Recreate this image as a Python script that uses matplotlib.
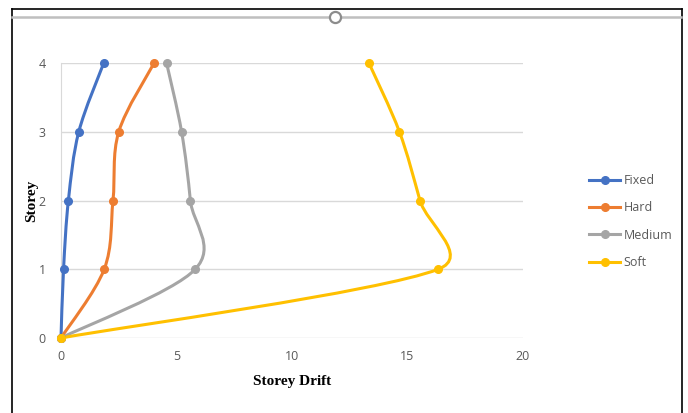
import numpy as np
import matplotlib
matplotlib.use("Agg")
import matplotlib.pyplot as plt
from matplotlib.path import Path
from matplotlib.patches import PathPatch
from matplotlib.lines import Line2D

# storey drift
storeys = [0, 1, 2, 3, 4]
fixed = [0, 0.11, 0.32, 0.77, 1.85]
hard = [0, 1.87, 2.25, 2.5, 4.03]
medium = [0, 5.81, 5.6, 5.22, 4.57]
soft = [0, 16.33, 15.54, 14.65, 13.33]

series = [("Fixed", fixed, "#4472C4"),
          ("Hard", hard, "#ED7D31"),
          ("Medium", medium, "#A5A5A5"),
          ("Soft", soft, "#FFC000")]

W, H = 688, 413
fig = plt.figure(figsize=(W / 100, H / 100), dpi=100)
fig.subplots_adjust(left=61 / W, right=523 / W, top=1 - 63 / H, bottom=1 - 338 / H)
ax = fig.add_subplot(111)
ax.set_xlim(0, 20)
ax.set_ylim(0, 4)


def excel_smooth(ax, xs, ys):
    """Bezier path like Excel's smoothed line (computed in screen space)."""
    pts = ax.transData.transform(np.column_stack([xs, ys]))
    n = len(pts)
    verts = [pts[0]]
    codes = [Path.MOVETO]
    for i in range(n - 1):
        p0 = pts[max(i - 1, 0)]
        p1 = pts[i]
        p2 = pts[i + 1]
        p3 = pts[min(i + 2, n - 1)]
        d02 = np.hypot(*(p2 - p0))
        d12 = np.hypot(*(p2 - p1))
        d13 = np.hypot(*(p3 - p1))
        f0 = 1 / 6 if d02 / 6 < d12 / 2 else d12 / (2 * d02)
        f1 = 1 / 6 if d13 / 6 < d12 / 2 else d12 / (2 * d13)
        verts += [p1 + (p2 - p0) * f0, p2 - (p3 - p1) * f1, p2]
        codes += [Path.CURVE4] * 3
    verts = ax.transData.inverted().transform(np.array(verts))
    return Path(verts, codes)


handles = []
for name, vals, col in series:
    ax.add_patch(PathPatch(excel_smooth(ax, vals, storeys), fill=False,
                           edgecolor=col, lw=2.2, capstyle="round",
                           joinstyle="round", zorder=3, clip_on=False))
    ax.plot(vals, storeys, "o", color=col, ms=5.5, zorder=4, clip_on=False)
    handles.append(Line2D([], [], color=col, lw=2.2, marker="o", ms=5.5))

ax.set_xticks([0, 5, 10, 15, 20])
ax.set_yticks([0, 1, 2, 3, 4])
ax.grid(axis="y", color="#D9D9D9", lw=1)
ax.set_axisbelow(True)
for s in ["top", "right", "bottom"]:
    ax.spines[s].set_visible(False)
ax.spines["left"].set_color("#D9D9D9")
ax.tick_params(length=0, labelsize=9, labelcolor="#595959", labelfontfamily="Open Sans")
ax.tick_params(axis="y", pad=11)
ax.tick_params(axis="x", pad=9)

ax.set_xlabel("Storey Drift", family="Liberation Serif", fontweight="bold",
              fontsize=11, labelpad=8)
ax.set_ylabel("Storey", family="Liberation Serif", fontweight="bold",
              fontsize=11, labelpad=0)

fig.legend(handles, [s[0] for s in series], loc="center left",
           bbox_to_anchor=(589 / W, 1 - 221.5 / H), frameon=False,
           borderpad=0, borderaxespad=0, handlelength=2.5, handletextpad=0.25,
           labelspacing=1.15, prop={"family": "Open Sans", "size": 9},
           labelcolor="#595959")

# chart frame, as in the screenshot
fig.add_artist(Line2D([12 / W, 12 / W], [0, 1 - 9 / H], color="black", lw=1.2))
fig.add_artist(Line2D([681.5 / W, 681.5 / W], [0, 1 - 9 / H], color="black", lw=1.2))
fig.add_artist(Line2D([12 / W, 681.5 / W], [1 - 9 / H, 1 - 9 / H], color="black", lw=1.2))
fig.add_artist(Line2D([12 / W, 681 / W], [1 - 17 / H, 1 - 17 / H], color="#BFBFBF", lw=1.8))
fig.add_artist(Line2D([335 / W], [1 - 17 / H], marker="o", ms=8, mfc="white",
                      mec="#8C8C8C", mew=1.6, linestyle="none"))

fig.savefig("out.png", dpi=100)
